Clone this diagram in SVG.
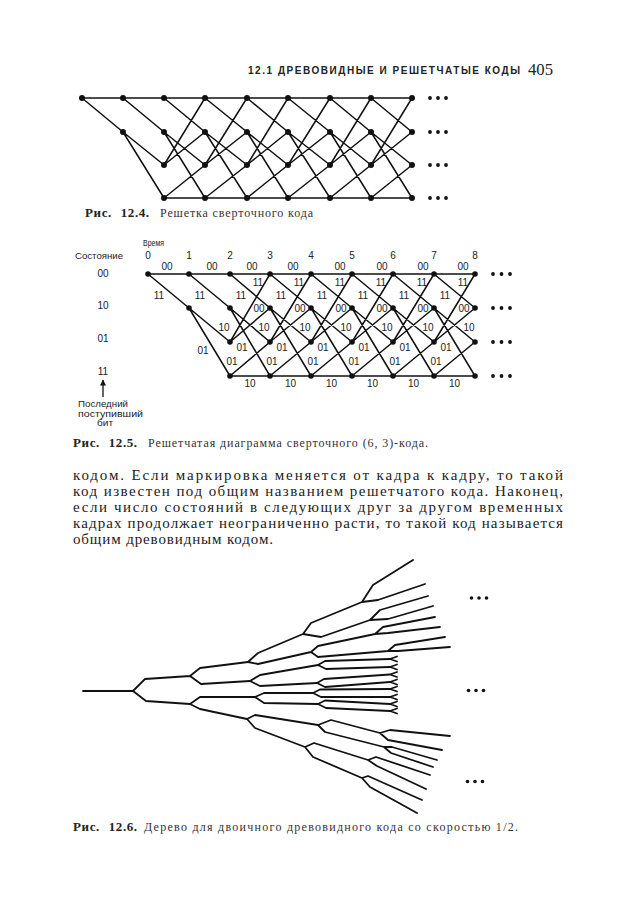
<svg xmlns="http://www.w3.org/2000/svg" width="622" height="900" viewBox="0 0 622 900">
<defs>
<style>
.bg{fill:#fff}
.e{fill:none;stroke:#111;stroke-width:1.5;stroke-linecap:round}
.tr{fill:none;stroke:#111;stroke-width:1.8;stroke-linecap:round;stroke-linejoin:round}
.n{fill:#111}
.dd{fill:#111}
.hd{font-family:"Liberation Sans",Arial,sans-serif;font-weight:bold;font-size:10px;fill:#222}
.pg{font-family:"Liberation Serif","Times New Roman",serif;font-size:16px;fill:#222}
.cb{font-family:"Liberation Serif","Times New Roman",serif;font-weight:bold;font-size:13px;fill:#222;letter-spacing:0.6px;word-spacing:5px}
.cn{font-family:"Liberation Serif","Times New Roman",serif;font-size:12px;fill:#333}
.tx{font-family:"Liberation Serif","Times New Roman",serif;font-size:15px;fill:#222}
.lb{font-family:"Liberation Sans",Arial,sans-serif;font-size:10px;fill:#222;text-anchor:middle}
.sm{font-family:"Liberation Sans",Arial,sans-serif;font-size:9px;fill:#222}
</style>
<marker id="ah" viewBox="0 0 10 10" refX="9" refY="5" markerWidth="8" markerHeight="6" orient="auto" markerUnits="userSpaceOnUse">
<path d="M0 0 L10 5 L0 10 Z" fill="#111"/>
</marker>
</defs>
<rect class="bg" x="0" y="0" width="622" height="900"/>

<!-- header -->
<text class="hd" x="248" y="74" textLength="272" lengthAdjust="spacing">12.1 ДРЕВОВИДНЫЕ И РЕШЕТЧАТЫЕ КОДЫ</text>
<text class="pg" x="528" y="75" textLength="25" lengthAdjust="spacingAndGlyphs">405</text>

<!-- Fig 12.4 -->
<g id="fig124-connectors">
<path class="e" d="M82 98 L412 98 M164 198 L412 198"/>
<path class="e" d="M82 98 L123 132
M123 98 L164 132 M123 132 L164 165 M123 132 L164 198
M164 98 L205 132 M164 132 L205 165 M164 132 L205 198 M164 165 L205 98 M164 165 L205 132 M164 198 L205 165
M205 98 L247 132 M205 132 L247 165 M205 132 L247 198 M205 165 L247 98 M205 165 L247 132 M205 198 L247 165
M247 98 L288 132 M247 132 L288 165 M247 132 L288 198 M247 165 L288 98 M247 165 L288 132 M247 198 L288 165
M288 98 L330 132 M288 132 L330 165 M288 132 L330 198 M288 165 L330 98 M288 165 L330 132 M288 198 L330 165
M330 98 L371 132 M330 132 L371 165 M330 132 L371 198 M330 165 L371 98 M330 165 L371 132 M330 198 L371 165
M371 98 L412 132 M371 132 L412 165 M371 132 L412 198 M371 165 L412 98 M371 165 L412 132 M371 198 L412 165"/>
</g>
<g id="fig124-nodes">
<g id="a-c0-r0"><circle class="n" cx="82" cy="98" r="3"/></g>
<g id="a-c1-r0"><circle class="n" cx="123" cy="98" r="3"/></g>
<g id="a-c1-r1"><circle class="n" cx="123" cy="132" r="3"/></g>
<g id="a-c2-r0"><circle class="n" cx="164" cy="98" r="3"/></g>
<g id="a-c2-r1"><circle class="n" cx="164" cy="132" r="3"/></g>
<g id="a-c2-r2"><circle class="n" cx="164" cy="165" r="3"/></g>
<g id="a-c2-r3"><circle class="n" cx="164" cy="198" r="3"/></g>
<g id="a-c3-r0"><circle class="n" cx="205" cy="98" r="3"/></g>
<g id="a-c3-r1"><circle class="n" cx="205" cy="132" r="3"/></g>
<g id="a-c3-r2"><circle class="n" cx="205" cy="165" r="3"/></g>
<g id="a-c3-r3"><circle class="n" cx="205" cy="198" r="3"/></g>
<g id="a-c4-r0"><circle class="n" cx="247" cy="98" r="3"/></g>
<g id="a-c4-r1"><circle class="n" cx="247" cy="132" r="3"/></g>
<g id="a-c4-r2"><circle class="n" cx="247" cy="165" r="3"/></g>
<g id="a-c4-r3"><circle class="n" cx="247" cy="198" r="3"/></g>
<g id="a-c5-r0"><circle class="n" cx="288" cy="98" r="3"/></g>
<g id="a-c5-r1"><circle class="n" cx="288" cy="132" r="3"/></g>
<g id="a-c5-r2"><circle class="n" cx="288" cy="165" r="3"/></g>
<g id="a-c5-r3"><circle class="n" cx="288" cy="198" r="3"/></g>
<g id="a-c6-r0"><circle class="n" cx="330" cy="98" r="3"/></g>
<g id="a-c6-r1"><circle class="n" cx="330" cy="132" r="3"/></g>
<g id="a-c6-r2"><circle class="n" cx="330" cy="165" r="3"/></g>
<g id="a-c6-r3"><circle class="n" cx="330" cy="198" r="3"/></g>
<g id="a-c7-r0"><circle class="n" cx="371" cy="98" r="3"/></g>
<g id="a-c7-r1"><circle class="n" cx="371" cy="132" r="3"/></g>
<g id="a-c7-r2"><circle class="n" cx="371" cy="165" r="3"/></g>
<g id="a-c7-r3"><circle class="n" cx="371" cy="198" r="3"/></g>
<g id="a-c8-r0"><circle class="n" cx="412" cy="98" r="3"/></g>
<g id="a-c8-r1"><circle class="n" cx="412" cy="132" r="3"/></g>
<g id="a-c8-r2"><circle class="n" cx="412" cy="165" r="3"/></g>
<g id="a-c8-r3"><circle class="n" cx="412" cy="198" r="3"/></g>
</g>
<g id="fig124-dots">
<circle class="dd" cx="430" cy="98" r="1.9"/><circle class="dd" cx="438" cy="98" r="1.9"/><circle class="dd" cx="446" cy="98" r="1.9"/>
<circle class="dd" cx="430" cy="132" r="1.9"/><circle class="dd" cx="438" cy="132" r="1.9"/><circle class="dd" cx="446" cy="132" r="1.9"/>
<circle class="dd" cx="430" cy="165" r="1.9"/><circle class="dd" cx="438" cy="165" r="1.9"/><circle class="dd" cx="446" cy="165" r="1.9"/>
<circle class="dd" cx="430" cy="198" r="1.9"/><circle class="dd" cx="438" cy="198" r="1.9"/><circle class="dd" cx="446" cy="198" r="1.9"/>
</g>
<text class="cb" x="85" y="217">Рис. 12.4.</text>
<text class="cn" x="160" y="217" textLength="153" lengthAdjust="spacing">Решетка сверточного кода</text>

<!-- Fig 12.5 -->
<g id="fig125-axis">
<text class="sm" x="143" y="246" textLength="21" lengthAdjust="spacingAndGlyphs">Время</text>
<text class="sm" x="75" y="259" textLength="48" lengthAdjust="spacingAndGlyphs">Состояние</text>
<text class="lb" x="148" y="259">0</text><text class="lb" x="189" y="259">1</text><text class="lb" x="230" y="259">2</text>
<text class="lb" x="270" y="259">3</text><text class="lb" x="311" y="259">4</text><text class="lb" x="352" y="259">5</text>
<text class="lb" x="393" y="259">6</text><text class="lb" x="434" y="259">7</text><text class="lb" x="475" y="259">8</text>
<text class="lb" x="103" y="277">00</text><text class="lb" x="103" y="308.5">10</text>
<text class="lb" x="103" y="341.5">01</text><text class="lb" x="103" y="375">11</text>
<line x1="103" y1="397" x2="103" y2="380" stroke="#111" stroke-width="1.3" marker-end="url(#ah)"/>
<text class="sm" x="78" y="407" textLength="50" lengthAdjust="spacingAndGlyphs">Последний</text>
<text class="sm" x="78" y="416.5" textLength="65" lengthAdjust="spacingAndGlyphs">поступивший</text>
<text class="sm" x="97" y="425.5" textLength="16" lengthAdjust="spacingAndGlyphs">бит</text>
</g>
<g id="fig125-connectors">
<path class="e" d="M148 274 L475 274 M230 376 L475 376"/>
<path class="e" d="M148 274 L189 308
M189 274 L230 308 M189 308 L230 342 M189 308 L230 376
M230 274 L270 308 M230 308 L270 342 M230 308 L270 376 M230 342 L270 274 M230 342 L270 308 M230 376 L270 342
M270 274 L311 308 M270 308 L311 342 M270 308 L311 376 M270 342 L311 274 M270 342 L311 308 M270 376 L311 342
M311 274 L352 308 M311 308 L352 342 M311 308 L352 376 M311 342 L352 274 M311 342 L352 308 M311 376 L352 342
M352 274 L393 308 M352 308 L393 342 M352 308 L393 376 M352 342 L393 274 M352 342 L393 308 M352 376 L393 342
M393 274 L434 308 M393 308 L434 342 M393 308 L434 376 M393 342 L434 274 M393 342 L434 308 M393 376 L434 342
M434 274 L475 308 M434 308 L475 342 M434 308 L475 376 M434 342 L475 274 M434 342 L475 308 M434 376 L475 342"/>
</g>
<g id="fig125-labels">
<text class="lb" x="167" y="270">00</text><text class="lb" x="212" y="270">00</text><text class="lb" x="252" y="270">00</text><text class="lb" x="293" y="270">00</text>
<text class="lb" x="340" y="270">00</text><text class="lb" x="382" y="270">00</text><text class="lb" x="423" y="270">00</text><text class="lb" x="463" y="270">00</text>
<text class="lb" x="159" y="298.5">11</text><text class="lb" x="200" y="298.5">11</text><text class="lb" x="241" y="298.5">11</text><text class="lb" x="281" y="298.5">11</text>
<text class="lb" x="322" y="298.5">11</text><text class="lb" x="363" y="298.5">11</text><text class="lb" x="404" y="298.5">11</text><text class="lb" x="445" y="298.5">11</text>
<text class="lb" x="258" y="285.5">11</text><text class="lb" x="299" y="285.5">11</text><text class="lb" x="340" y="285.5">11</text>
<text class="lb" x="381" y="285.5">11</text><text class="lb" x="422" y="285.5">11</text><text class="lb" x="463" y="285.5">11</text>
<text class="lb" x="259" y="311.5">00</text><text class="lb" x="300" y="311.5">00</text><text class="lb" x="341" y="311.5">00</text>
<text class="lb" x="382" y="311.5">00</text><text class="lb" x="423" y="311.5">00</text><text class="lb" x="464" y="311.5">00</text>
<text class="lb" x="224" y="330.5">10</text><text class="lb" x="264" y="330.5">10</text><text class="lb" x="305" y="330.5">10</text><text class="lb" x="346" y="330.5">10</text>
<text class="lb" x="387" y="330.5">10</text><text class="lb" x="428" y="330.5">10</text><text class="lb" x="469" y="330.5">10</text>
<text class="lb" x="203" y="354">01</text>
<text class="lb" x="242" y="350.5">01</text><text class="lb" x="282" y="350.5">01</text><text class="lb" x="323" y="350.5">01</text>
<text class="lb" x="364" y="350.5">01</text><text class="lb" x="405" y="350.5">01</text><text class="lb" x="446" y="350.5">01</text>
<text class="lb" x="232" y="365">01</text><text class="lb" x="272" y="365">01</text><text class="lb" x="313" y="365">01</text>
<text class="lb" x="354" y="365">01</text><text class="lb" x="395" y="365">01</text><text class="lb" x="436" y="365">01</text>
<text class="lb" x="250" y="387">10</text><text class="lb" x="290.5" y="387">10</text><text class="lb" x="331.5" y="387">10</text>
<text class="lb" x="372.5" y="387">10</text><text class="lb" x="413.5" y="387">10</text><text class="lb" x="454.5" y="387">10</text>
</g>
<g id="fig125-nodes">
<g id="b-c0-r0"><circle class="n" cx="148" cy="274" r="2.8"/></g>
<g id="b-c1-r0"><circle class="n" cx="189" cy="274" r="2.8"/></g>
<g id="b-c1-r1"><circle class="n" cx="189" cy="308" r="2.8"/></g>
<g id="b-c2-r0"><circle class="n" cx="230" cy="274" r="2.8"/></g>
<g id="b-c2-r1"><circle class="n" cx="230" cy="308" r="2.8"/></g>
<g id="b-c2-r2"><circle class="n" cx="230" cy="342" r="2.8"/></g>
<g id="b-c2-r3"><circle class="n" cx="230" cy="376" r="2.8"/></g>
<g id="b-c3-r0"><circle class="n" cx="270" cy="274" r="2.8"/></g>
<g id="b-c3-r1"><circle class="n" cx="270" cy="308" r="2.8"/></g>
<g id="b-c3-r2"><circle class="n" cx="270" cy="342" r="2.8"/></g>
<g id="b-c3-r3"><circle class="n" cx="270" cy="376" r="2.8"/></g>
<g id="b-c4-r0"><circle class="n" cx="311" cy="274" r="2.8"/></g>
<g id="b-c4-r1"><circle class="n" cx="311" cy="308" r="2.8"/></g>
<g id="b-c4-r2"><circle class="n" cx="311" cy="342" r="2.8"/></g>
<g id="b-c4-r3"><circle class="n" cx="311" cy="376" r="2.8"/></g>
<g id="b-c5-r0"><circle class="n" cx="352" cy="274" r="2.8"/></g>
<g id="b-c5-r1"><circle class="n" cx="352" cy="308" r="2.8"/></g>
<g id="b-c5-r2"><circle class="n" cx="352" cy="342" r="2.8"/></g>
<g id="b-c5-r3"><circle class="n" cx="352" cy="376" r="2.8"/></g>
<g id="b-c6-r0"><circle class="n" cx="393" cy="274" r="2.8"/></g>
<g id="b-c6-r1"><circle class="n" cx="393" cy="308" r="2.8"/></g>
<g id="b-c6-r2"><circle class="n" cx="393" cy="342" r="2.8"/></g>
<g id="b-c6-r3"><circle class="n" cx="393" cy="376" r="2.8"/></g>
<g id="b-c7-r0"><circle class="n" cx="434" cy="274" r="2.8"/></g>
<g id="b-c7-r1"><circle class="n" cx="434" cy="308" r="2.8"/></g>
<g id="b-c7-r2"><circle class="n" cx="434" cy="342" r="2.8"/></g>
<g id="b-c7-r3"><circle class="n" cx="434" cy="376" r="2.8"/></g>
<g id="b-c8-r0"><circle class="n" cx="475" cy="274" r="2.8"/></g>
<g id="b-c8-r1"><circle class="n" cx="475" cy="308" r="2.8"/></g>
<g id="b-c8-r2"><circle class="n" cx="475" cy="342" r="2.8"/></g>
<g id="b-c8-r3"><circle class="n" cx="475" cy="376" r="2.8"/></g>
</g>
<g id="fig125-dots">
<circle class="dd" cx="493" cy="274" r="1.9"/><circle class="dd" cx="501.5" cy="274" r="1.9"/><circle class="dd" cx="510" cy="274" r="1.9"/>
<circle class="dd" cx="493" cy="308" r="1.9"/><circle class="dd" cx="501.5" cy="308" r="1.9"/><circle class="dd" cx="510" cy="308" r="1.9"/>
<circle class="dd" cx="493" cy="342" r="1.9"/><circle class="dd" cx="501.5" cy="342" r="1.9"/><circle class="dd" cx="510" cy="342" r="1.9"/>
<circle class="dd" cx="493" cy="376" r="1.9"/><circle class="dd" cx="501.5" cy="376" r="1.9"/><circle class="dd" cx="510" cy="376" r="1.9"/>
</g>
<text class="cb" x="73" y="447">Рис. 12.5.</text>
<text class="cn" x="148" y="447" textLength="280" lengthAdjust="spacing">Решетчатая диаграмма сверточного (6, 3)-кода.</text>

<!-- body text -->
<g id="body-text">
<text class="tx" x="73" y="480" textLength="490" lengthAdjust="spacing">кодом. Если маркировка меняется от кадра к кадру, то такой</text>
<text class="tx" x="73" y="496" textLength="490" lengthAdjust="spacing">код известен под общим названием решетчатого кода. Наконец,</text>
<text class="tx" x="73" y="512" textLength="490" lengthAdjust="spacing">если число состояний в следующих друг за другом временных</text>
<text class="tx" x="73" y="528" textLength="490" lengthAdjust="spacing">кадрах продолжает неограниченно расти, то такой код называется</text>
<text class="tx" x="73" y="544" textLength="200" lengthAdjust="spacing">общим древовидным кодом.</text>
</g>

<!-- Fig 12.6 tree -->
<g id="fig126-tree">
<path class="tr" d="M83 691 L133 691
M133 691 L145 679 L190 676 M133 691 L146 701 L190 704
M190 676 L200 668 L248 662 M190 676 L201 684 L250 681
M190 704 L200 697 L255 697 M190 704 L200 709 L247 719"/>
<path class="tr" d="M248 662 L258 653 L303 634 M248 662 L258 664 L311 652
M303 634 L311 623 L362 602 M303 634 L321 637 L370 620
M362 602 L373 585 L413 560 M362 602 L378 600 L425 584
M370 620 L380 610 L428 596 M370 620 L388 619 L433 606
M311 652 L318 646 L375 634 M311 652 L318 657 L388 651
M375 634 L383 627 L435 617 M375 634 L388 633 L440 627
M388 651 L395 645 L445 637 M388 651 L398 651 L450 647"/>
<path class="tr" d="M250 681 L260 675 L318 665 M250 681 L260 686 L317 683
M255 697 L264 693 L313 693 M255 697 L264 703 L318 704
M318 665 L325 661 L390 659 M318 665 L326 669 L390 667
M317 683 L324 679 L390 674.5 M317 683 L325 687 L390 682
M313 693 L320 689.5 L390 689 M313 693 L321 697 L390 697
M318 704 L325 700.5 L390 704 M318 704 L326 708 L390 711
M390 659 L397 656.5 M390 659 L397 661.5
M390 667 L397 664.5 M390 667 L397 669.5
M390 674.5 L397 672 M390 674.5 L397 677
M390 682 L397 679.5 M390 682 L397 684.5
M390 689 L397 686.5 M390 689 L397 691.5
M390 697 L397 694.5 M390 697 L397 699.5
M390 704 L397 701.5 M390 704 L397 706.5
M390 711 L397 708.5 M390 711 L397 713.5"/>
<path class="tr" d="M247 719 L255 715 L318 725 M247 719 L255 728 L305 747
M318 725 L331 720 L380 733 M318 725 L325 732 L384 747
M380 733 L390 730 L450 736 M380 733 L388 740 L442 750
M384 747 L392 747 L437 760 M384 747 L391 753 L433 767
M305 747 L314 743 L368 760 M305 747 L313 757 L362 778
M368 760 L376 757 L430 775 M368 760 L377 766 L426 789
M362 778 L368 776 L422 800 M362 778 L370 787 L417 813"/>
</g>
<g id="fig126-dots">
<circle class="dd" cx="471.5" cy="598" r="1.8"/><circle class="dd" cx="479" cy="598" r="1.8"/><circle class="dd" cx="486.5" cy="598" r="1.8"/>
<circle class="dd" cx="468.5" cy="690.5" r="1.8"/><circle class="dd" cx="476" cy="690.5" r="1.8"/><circle class="dd" cx="483.5" cy="690.5" r="1.8"/>
<circle class="dd" cx="467.5" cy="781.5" r="1.8"/><circle class="dd" cx="475" cy="781.5" r="1.8"/><circle class="dd" cx="482.5" cy="781.5" r="1.8"/>
</g>
<text class="cb" x="73" y="831">Рис. 12.6.</text>
<text class="cn" x="144" y="831" textLength="374" lengthAdjust="spacing">Дерево для двоичного древовидного кода со скоростью 1/2.</text>
</svg>
